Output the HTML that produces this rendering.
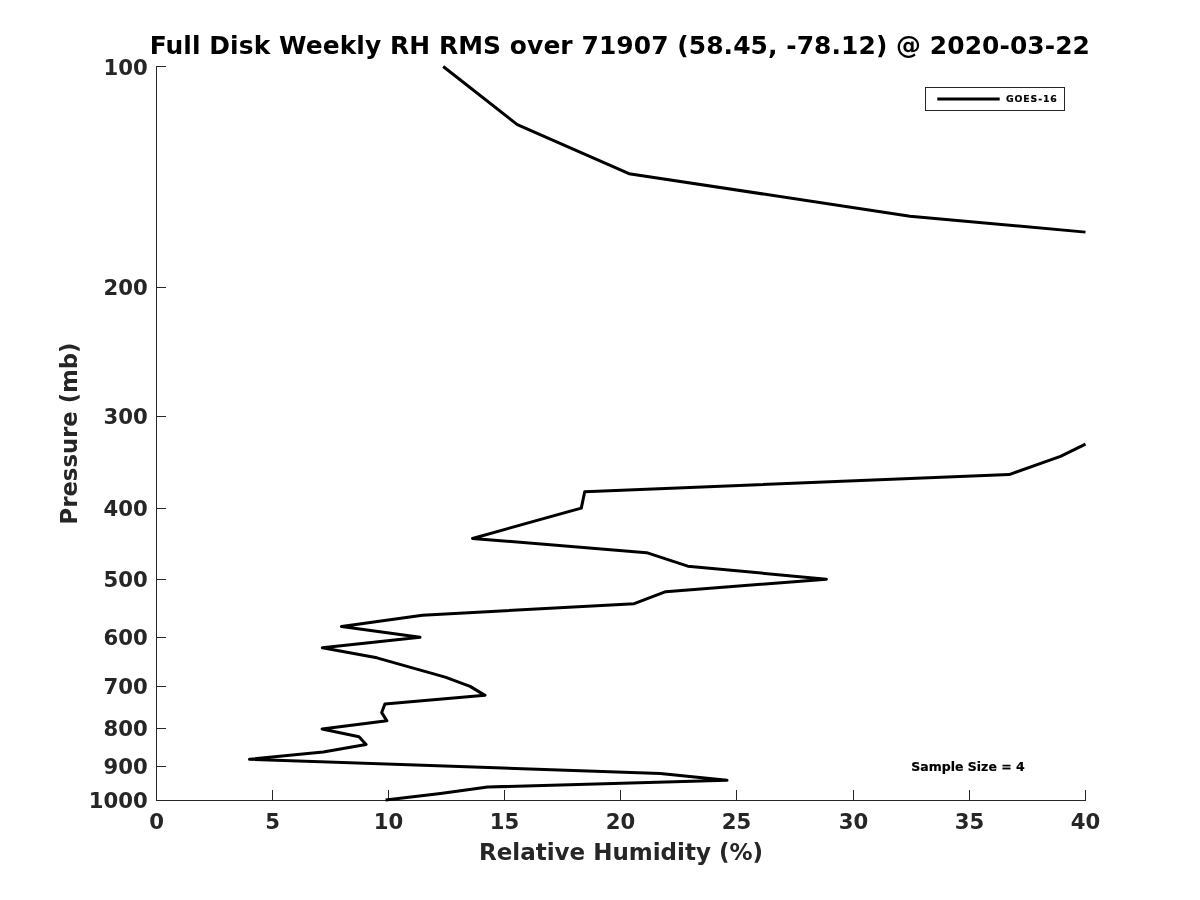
<!DOCTYPE html>
<html lang="en"><head><meta charset="utf-8"><title>Full Disk Weekly RH RMS</title>
<style>
html,body{margin:0;padding:0;background:#fff;}
body{width:1200px;height:900px;overflow:hidden;}
svg{display:block;}
text{font-family:"DejaVu Sans","Liberation Sans",sans-serif;font-weight:bold;}
.tk{font-size:21.2px;fill:#262626;}
.lb{font-size:23px;fill:#262626;}
.tt{font-size:24.93px;fill:#000;}
.lg{font-size:9.3px;fill:#000;letter-spacing:0.92px;stroke:#000;stroke-width:0.2px;}
.ss{font-size:12.5px;fill:#000;stroke:#000;stroke-width:0.2px;}
</style></head><body>
<svg width="1200" height="900" viewBox="0 0 1200 900">
<rect width="1200" height="900" fill="#fff"/>

<g fill="#262626" shape-rendering="crispEdges">
<rect x="156" y="66" width="1" height="735"/>
<rect x="156" y="800" width="930" height="1"/>
<rect x="156" y="790" width="1" height="11"/>
<rect x="272" y="790" width="1" height="11"/>
<rect x="388" y="790" width="1" height="11"/>
<rect x="504" y="790" width="1" height="11"/>
<rect x="620" y="790" width="1" height="11"/>
<rect x="736" y="790" width="1" height="11"/>
<rect x="853" y="790" width="1" height="11"/>
<rect x="969" y="790" width="1" height="11"/>
<rect x="1085" y="790" width="1" height="11"/>
<rect x="156" y="66" width="10" height="1"/>
<rect x="156" y="287" width="10" height="1"/>
<rect x="156" y="416" width="10" height="1"/>
<rect x="156" y="508" width="10" height="1"/>
<rect x="156" y="579" width="10" height="1"/>
<rect x="156" y="637" width="10" height="1"/>
<rect x="156" y="686" width="10" height="1"/>
<rect x="156" y="728" width="10" height="1"/>
<rect x="156" y="766" width="10" height="1"/>
<rect x="156" y="800" width="10" height="1"/>
</g>
<text class="tk" x="156.5" y="829.1" text-anchor="middle">0</text>
<text class="tk" x="272.5" y="829.1" text-anchor="middle">5</text>
<text class="tk" x="388.5" y="829.1" text-anchor="middle">10</text>
<text class="tk" x="504.5" y="829.1" text-anchor="middle">15</text>
<text class="tk" x="620.5" y="829.1" text-anchor="middle">20</text>
<text class="tk" x="736.5" y="829.1" text-anchor="middle">25</text>
<text class="tk" x="853.5" y="829.1" text-anchor="middle">30</text>
<text class="tk" x="969.5" y="829.1" text-anchor="middle">35</text>
<text class="tk" x="1085.5" y="829.1" text-anchor="middle">40</text>
<text class="tk" x="147.8" y="74.7" text-anchor="end">100</text>
<text class="tk" x="147.8" y="295.3" text-anchor="end">200</text>
<text class="tk" x="147.8" y="424.3" text-anchor="end">300</text>
<text class="tk" x="147.8" y="516.3" text-anchor="end">400</text>
<text class="tk" x="147.8" y="587.3" text-anchor="end">500</text>
<text class="tk" x="147.8" y="645.3" text-anchor="end">600</text>
<text class="tk" x="147.8" y="694.3" text-anchor="end">700</text>
<text class="tk" x="147.8" y="736.3" text-anchor="end">800</text>
<text class="tk" x="147.8" y="774.3" text-anchor="end">900</text>
<text class="tk" x="147.8" y="807.6" text-anchor="end">1000</text>
<text class="tt" x="149.7" y="53.8" letter-spacing="0.075">Full Disk Weekly RH RMS over 71907 (58.45, -78.12) @ 2020-03-22</text>
<text class="lb" x="621" y="859.5" text-anchor="middle">Relative Humidity (%)</text>
<text class="lb" style="font-size:22.75px" transform="translate(77,433.5) rotate(-90)" text-anchor="middle">Pressure (mb)</text>
<g stroke="#000" stroke-width="3" fill="none" stroke-linejoin="round" stroke-linecap="butt">
<polyline points="443.20,66.50 517.30,124.58 629.00,173.68 910.00,216.22 1085.50,232.13"/>
<polyline points="1085.50,444.18 1060.50,456.34 1009.20,474.55 584.70,491.77 581.30,508.11 472.50,538.47 646.60,552.63 687.80,566.19 826.40,579.19 665.70,591.69 634.20,603.71 422.40,615.30 341.50,626.47 420.00,637.27 322.40,647.72 376.90,657.83 445.20,677.15 470.10,686.38 485.00,695.35 384.90,704.08 381.70,712.58 386.90,720.85 322.10,728.92 359.00,736.78 366.10,744.46 323.20,751.95 249.50,759.28 660.20,773.44 727.00,780.29 487.70,787.00 440.50,793.56 385.60,800.00"/>
</g>
<rect x="925.5" y="87.5" width="139" height="23" fill="#fff" stroke="#262626" stroke-width="1" shape-rendering="crispEdges"/>
<path d="M937.3 99 H999.7" stroke="#000" stroke-width="3" fill="none"/>
<text class="lg" x="1005.9" y="101.9">GOES-16</text>
<text class="ss" x="911.3" y="771">Sample Size = 4</text>
</svg></body></html>
